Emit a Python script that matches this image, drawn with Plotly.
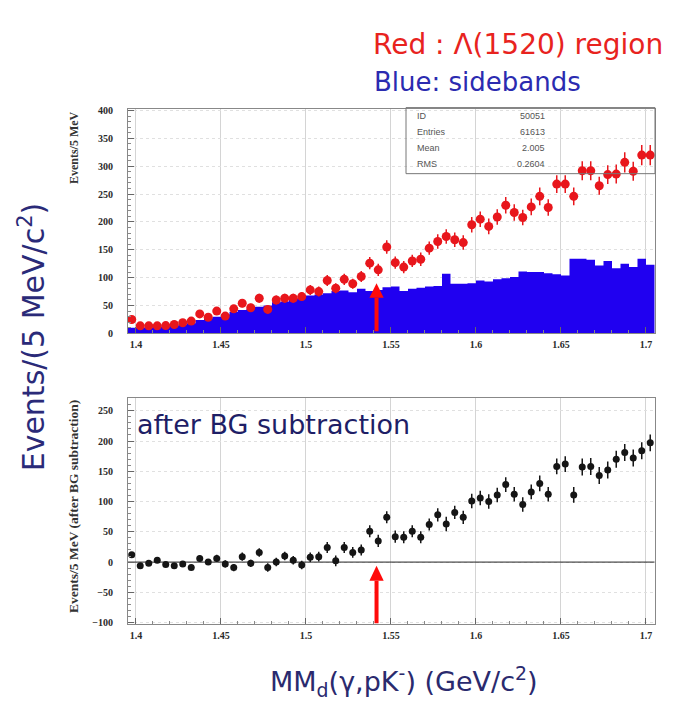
import numpy as np
import plotly.graph_objects as go

W, H = 676, 704

# ---- data (5 MeV bins from 1.395 to 1.705 GeV) ----
bin_lo = 1.395
bin_w = 0.005
n_bins = 62

red_counts = [25, 13.5, 13.5, 13.5, 14, 16, 19, 22, 35, 29, 40, 31, 44, 54, 46, 63, 43, 60, 63, 63,
              66, 78, 75, 95, 81, 97, 89, 102, 126, 114, 155, 127, 119, 130, 133, 153, 165, 174, 168, 163,
              195, 205, 192, 209, 230, 217, 208, 227, 246, 226, 268, 268, 246, 292, 292, 265, 285, 286, 307, 291,
              320, 320]
red_err = [5, 4, 4, 4, 4, 4, 4, 5, 6, 5, 6, 6, 7, 7, 7, 8, 7, 8, 8, 8,
           8, 9, 9, 10, 9, 10, 9, 10, 11, 11, 12, 11, 11, 11, 12, 12, 13, 13, 13, 13,
           14, 14, 14, 14, 15, 15, 14, 15, 16, 15, 16, 16, 16, 17, 17, 16, 17, 17, 18, 17,
           18, 18]
blue_counts = [10, 10, 11, 12, 13, 14, 16, 18, 24, 27, 30, 34, 39, 42, 44, 48, 50, 56, 57, 62,
               64, 68, 70, 72, 76, 77, 74, 80, 76, 78, 83, 84, 76, 80, 82, 84, 85, 107, 89, 89,
               90, 95, 93, 97, 99, 101, 111, 110, 110, 108, 106, 104, 134, 134, 132, 122, 130, 117, 125, 119,
               134, 123]
sub_counts = [12, -6, -2, 3, -4, -6, -3, -9, 6, 0, 6, -3, -9, 9, -2, 16, -9, 0, 10, 3,
              -5, 8, 9, 24, 2, 24, 16, 20, 51, 35, 74, 42, 41, 51, 41, 62, 78, 63, 82, 74,
              101, 106, 100, 111, 128, 112, 95, 116, 130, 112, 158, 162, 111, 157, 158, 143, 152, 170, 181, 172,
              184, 197]
sub_err = [4, 4, 4, 4, 4, 4, 4, 4, 5, 5, 6, 6, 6, 7, 6, 7, 7, 7, 7, 7,
           7, 8, 8, 9, 9, 9, 9, 9, 10, 10, 10, 10, 10, 10, 10, 10, 11, 12, 11, 11,
           12, 12, 12, 12, 12, 12, 12, 12, 13, 12, 13, 13, 13, 14, 14, 14, 14, 14, 14, 14,
           14, 14]

x_ticks = [1.4, 1.45, 1.5, 1.55, 1.6, 1.65, 1.7]
x_tick_text = ["1.4", "1.45", "1.5", "1.55", "1.6", "1.65", "1.7"]
top_yticks = [0, 50, 100, 150, 200, 250, 300, 350, 400]
bot_yticks = [-100, -50, 0, 50, 100, 150, 200, 250]

stats_labels = ["ID", "Entries", "Mean", "RMS"]
stats_values = ["50051", "61613", "2.005", "0.2604"]

# arrow marking the Λ(1520) mass position: (tip, head base, tail) in axis units
arrow_mass = 1.5415
arrow_top = (90, 64, 4)
arrow_bot = (-6, -31, -101)

# ---- derived bin geometry ----
centers = bin_lo + bin_w * (np.arange(n_bins) + 0.5)
edges = bin_lo + bin_w * np.arange(n_bins + 1)


def px_x(p):
    return p / W


def px_y(p):
    return 1 - p / H


fig = go.Figure()

# top panel: blue sideband histogram
fig.add_trace(go.Scatter(
    x=edges, y=list(blue_counts) + [blue_counts[-1]],
    mode="lines", line=dict(shape="hv", width=0, color="#2000f0"),
    fill="tozeroy", fillcolor="#2000f0", hoverinfo="skip",
    xaxis="x", yaxis="y", showlegend=False))

# top panel: red points
fig.add_trace(go.Scatter(
    x=centers, y=red_counts, mode="markers",
    marker=dict(color="#e8161c", size=9, symbol="circle"),
    error_y=dict(type="data", array=red_err, color="#e8161c", thickness=1.5, width=0),
    xaxis="x", yaxis="y", showlegend=False))

# bottom panel: zero line
fig.add_trace(go.Scatter(
    x=[edges[0], edges[-1]], y=[0, 0], mode="lines",
    line=dict(color="#222222", width=1), hoverinfo="skip",
    xaxis="x2", yaxis="y2", showlegend=False))

# bottom panel: subtracted points
fig.add_trace(go.Scatter(
    x=centers, y=sub_counts, mode="markers",
    marker=dict(color="#151515", size=7, symbol="circle"),
    error_y=dict(type="data", array=sub_err, color="#151515", thickness=1.5, width=0),
    xaxis="x2", yaxis="y2", showlegend=False))

tickfont = dict(family="Liberation Serif", size=10, color="#2a2a2a", weight="bold")
xdom = [px_x(120), px_x(647)]
xr = [1.3953, 1.7053]

common_x = dict(range=xr, domain=xdom, tickvals=x_ticks, ticktext=x_tick_text,
                tickfont=tickfont, showgrid=True, gridcolor="#d4d4d4", gridwidth=1,
                ticks="inside", ticklen=6, tickcolor="#666666", ticklabelstandoff=2,
                minor=dict(ticks="inside", ticklen=3, dtick=0.01, tickcolor="#888888", showgrid=False),
                showline=True, linecolor="#888888", linewidth=1, mirror=True, zeroline=False)
common_y = dict(tickfont=tickfont, showgrid=True, gridcolor="#e0e0e0", gridwidth=1, griddash="dot",
                ticks="inside", ticklen=6, tickcolor="#666666", ticklabelstandoff=12,
                minor=dict(ticks="inside", ticklen=3, dtick=10, tickcolor="#888888", showgrid=False),
                showline=True, linecolor="#888888", linewidth=1, mirror=True, zeroline=False)

fig.update_layout(
    width=W, height=H, margin=dict(l=0, r=0, t=0, b=0),
    paper_bgcolor="white", plot_bgcolor="white",
    xaxis=dict(common_x, anchor="y"),
    yaxis=dict(common_y, range=[0, 403.5], domain=[px_y(326), px_y(98)], tickvals=top_yticks, anchor="x"),
    xaxis2=dict(common_x, anchor="y2"),
    yaxis2=dict(common_y, range=[-102.6, 270.4], domain=[px_y(621), px_y(392)], tickvals=bot_yticks, anchor="x2"),
)

sans = "DejaVu Sans"
ann = []
# headline texts
ann.append(dict(x=px_x(363), y=px_y(33), xref="paper", yref="paper", xanchor="left", yanchor="middle",
                text="Red : Λ(1520) region", showarrow=False,
                font=dict(family=sans, size=28, color="#e8231e")))
ann.append(dict(x=px_x(364), y=px_y(71), xref="paper", yref="paper", xanchor="left", yanchor="middle",
                text="Blue: sidebands", showarrow=False,
                font=dict(family=sans, size=26, color="#2b2bb0")))
# main axis titles
ann.append(dict(x=px_x(24), y=px_y(330), xref="paper", yref="paper", xanchor="center", yanchor="middle",
                text="Events/(5 MeV/c<sup>2</sup>)", textangle=-90, showarrow=False,
                font=dict(family=sans, size=30, color="#2a2a78")))
ann.append(dict(x=px_x(396), y=px_y(679), xref="paper", yref="paper", xanchor="center", yanchor="middle",
                text="MM<sub>d</sub>(γ,pK<sup>-</sup>) (GeV/c<sup>2</sup>)", showarrow=False,
                font=dict(family=sans, size=27, color="#2a2a6e")))
# panel label
ann.append(dict(x=px_x(127), y=px_y(418), xref="paper", yref="paper", xanchor="left", yanchor="middle",
                text="after BG subtraction", showarrow=False,
                font=dict(family=sans, size=27, color="#1e1e66")))
# small ROOT axis titles
ann.append(dict(x=px_x(66), y=px_y(99), xref="paper", yref="paper", xanchor="center", yanchor="top",
                text="Events/5 MeV", textangle=-90, showarrow=False,
                font=dict(family="Liberation Serif", size=12, color="#333333", weight="bold")))
ann.append(dict(x=px_x(66), y=px_y(392), xref="paper", yref="paper", xanchor="center", yanchor="top",
                text="Events/5 MeV (after BG subtraction)", textangle=-90, showarrow=False,
                font=dict(family="Liberation Serif", size=13.5, color="#333333", weight="bold")))

# stats box
box_top, row_h = 105, 16.5
for i, (lab, val) in enumerate(zip(stats_labels, stats_values)):
    yy = px_y(box_top + i * row_h)
    ann.append(dict(x=px_x(407), y=yy, xref="paper", yref="paper", xanchor="left", yanchor="middle",
                    text=lab, showarrow=False, font=dict(family="Liberation Sans", size=9, color="#555555")))
    ann.append(dict(x=px_x(539), y=yy, xref="paper", yref="paper", xanchor="right", yanchor="middle",
                    text=val, showarrow=False, font=dict(family="Liberation Sans", size=9, color="#555555")))

fig.update_layout(annotations=ann)
fig.add_shape(type="rect", xref="paper", yref="paper",
              x0=px_x(398), x1=px_x(647), y0=px_y(164), y1=px_y(97),
              line=dict(color="#777777", width=1), fillcolor="rgba(0,0,0,0)", layer="above")

# red arrows (shaft + triangular head)
half_head = 0.0042
for xr_, yr_, (tip, base, tail) in (("x", "y", arrow_top), ("x2", "y2", arrow_bot)):
    fig.add_shape(type="line", xref=xr_, yref=yr_, x0=arrow_mass, x1=arrow_mass, y0=tail, y1=base,
                  line=dict(color="#ff0a0a", width=4), layer="above")
    fig.add_shape(type="path", xref=xr_, yref=yr_,
                  path=f"M {arrow_mass - half_head},{base} L {arrow_mass + half_head},{base} L {arrow_mass},{tip} Z",
                  fillcolor="#ff0a0a", line=dict(color="#ff0a0a", width=0), layer="above")

fig.write_html("out.html")
